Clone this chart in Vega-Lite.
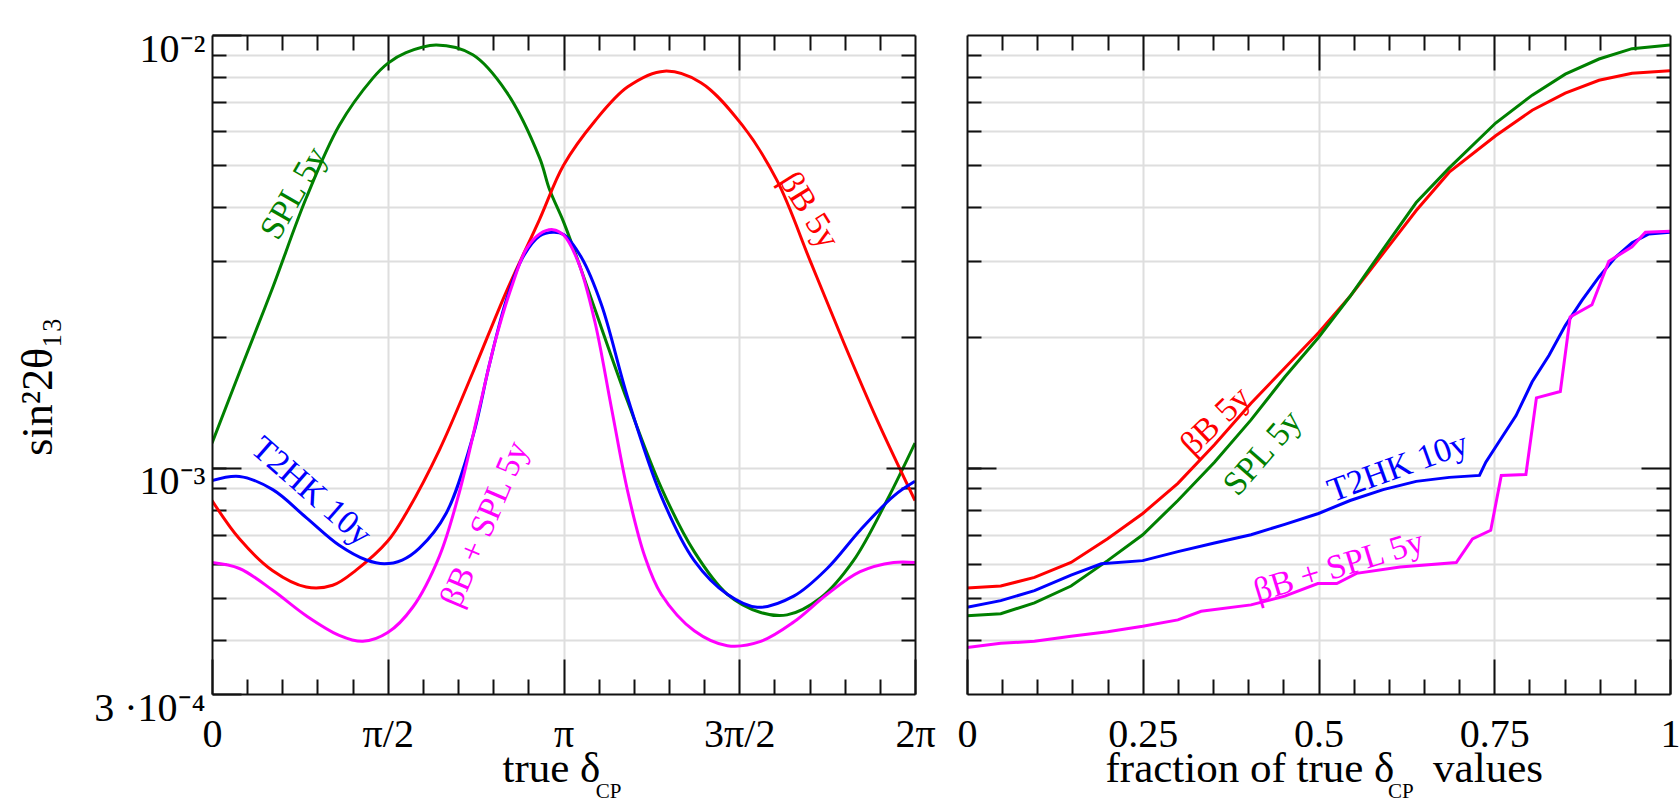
{
  "$schema": "https://vega.github.io/schema/vega-lite/v6.json",
  "padding": {"left": 16, "top": 29, "right": 0, "bottom": 0},
  "bounds": "flush",
  "spacing": 52,
  "config": {
    "view": {"stroke": null},
    "axis": {
      "labelFont": "Liberation Serif", "titleFont": "Liberation Serif",
      "labelFontSize": 40, "titleFontSize": 43, "titleFontWeight": "normal",
      "labelColor": "#000", "titleColor": "#000",
      "tickColor": "#111", "domainColor": "#111", "domainWidth": 2, "tickWidth": 2,
      "gridColor": "#dedede", "gridWidth": 2,
      "labelFlush": false, "labelOverlap": false
    }
  },
  "datasets": {
    "left": [
      {"series": "SPL 5y", "delta": 0.000, "s2t": 0.00114},
      {"series": "SPL 5y", "delta": 0.245, "s2t": 0.00166},
      {"series": "SPL 5y", "delta": 0.543, "s2t": 0.00261},
      {"series": "SPL 5y", "delta": 0.842, "s2t": 0.0042},
      {"series": "SPL 5y", "delta": 1.137, "s2t": 0.00618},
      {"series": "SPL 5y", "delta": 1.436, "s2t": 0.00794},
      {"series": "SPL 5y", "delta": 1.571, "s2t": 0.0086},
      {"series": "SPL 5y", "delta": 1.734, "s2t": 0.0091},
      {"series": "SPL 5y", "delta": 2.004, "s2t": 0.00948},
      {"series": "SPL 5y", "delta": 2.331, "s2t": 0.0090},
      {"series": "SPL 5y", "delta": 2.630, "s2t": 0.0074},
      {"series": "SPL 5y", "delta": 2.928, "s2t": 0.0052},
      {"series": "SPL 5y", "delta": 3.016, "s2t": 0.0044},
      {"series": "SPL 5y", "delta": 3.142, "s2t": 0.0037},
      {"series": "SPL 5y", "delta": 3.283, "s2t": 0.00295},
      {"series": "SPL 5y", "delta": 3.421, "s2t": 0.00233},
      {"series": "SPL 5y", "delta": 3.716, "s2t": 0.00142},
      {"series": "SPL 5y", "delta": 4.015, "s2t": 0.0009},
      {"series": "SPL 5y", "delta": 4.310, "s2t": 0.00064},
      {"series": "SPL 5y", "delta": 4.606, "s2t": 0.00051},
      {"series": "SPL 5y", "delta": 4.904, "s2t": 0.000463},
      {"series": "SPL 5y", "delta": 5.140, "s2t": 0.000457},
      {"series": "SPL 5y", "delta": 5.438, "s2t": 0.0005},
      {"series": "SPL 5y", "delta": 5.733, "s2t": 0.00061},
      {"series": "SPL 5y", "delta": 6.032, "s2t": 0.00084},
      {"series": "SPL 5y", "delta": 6.283, "s2t": 0.00114},

      {"series": "βB 5y", "delta": 0.000, "s2t": 0.00084},
      {"series": "βB 5y", "delta": 0.245, "s2t": 0.000685},
      {"series": "βB 5y", "delta": 0.543, "s2t": 0.000578},
      {"series": "βB 5y", "delta": 0.842, "s2t": 0.00053},
      {"series": "βB 5y", "delta": 1.078, "s2t": 0.000535},
      {"series": "βB 5y", "delta": 1.288, "s2t": 0.00058},
      {"series": "βB 5y", "delta": 1.571, "s2t": 0.000677},
      {"series": "βB 5y", "delta": 1.734, "s2t": 0.000784},
      {"series": "βB 5y", "delta": 2.033, "s2t": 0.0011},
      {"series": "βB 5y", "delta": 2.331, "s2t": 0.00166},
      {"series": "βB 5y", "delta": 2.630, "s2t": 0.00255},
      {"series": "βB 5y", "delta": 2.928, "s2t": 0.00375},
      {"series": "βB 5y", "delta": 3.142, "s2t": 0.0050},
      {"series": "βB 5y", "delta": 3.421, "s2t": 0.00632},
      {"series": "βB 5y", "delta": 3.716, "s2t": 0.00759},
      {"series": "βB 5y", "delta": 4.043, "s2t": 0.00825},
      {"series": "βB 5y", "delta": 4.370, "s2t": 0.00776},
      {"series": "βB 5y", "delta": 4.741, "s2t": 0.00618},
      {"series": "βB 5y", "delta": 5.052, "s2t": 0.0046},
      {"series": "βB 5y", "delta": 5.350, "s2t": 0.00299},
      {"series": "βB 5y", "delta": 5.645, "s2t": 0.00195},
      {"series": "βB 5y", "delta": 5.944, "s2t": 0.00129},
      {"series": "βB 5y", "delta": 6.283, "s2t": 0.00084},

      {"series": "T2HK 10y", "delta": 0.000, "s2t": 0.000934},
      {"series": "T2HK 10y", "delta": 0.245, "s2t": 0.000955},
      {"series": "T2HK 10y", "delta": 0.543, "s2t": 0.00089},
      {"series": "T2HK 10y", "delta": 0.842, "s2t": 0.000767},
      {"series": "T2HK 10y", "delta": 1.137, "s2t": 0.000662},
      {"series": "T2HK 10y", "delta": 1.380, "s2t": 0.000612},
      {"series": "T2HK 10y", "delta": 1.540, "s2t": 0.0006},
      {"series": "T2HK 10y", "delta": 1.700, "s2t": 0.000612},
      {"series": "T2HK 10y", "delta": 1.854, "s2t": 0.000652},
      {"series": "T2HK 10y", "delta": 2.092, "s2t": 0.000784},
      {"series": "T2HK 10y", "delta": 2.331, "s2t": 0.00118},
      {"series": "T2HK 10y", "delta": 2.479, "s2t": 0.00173},
      {"series": "T2HK 10y", "delta": 2.630, "s2t": 0.00244},
      {"series": "T2HK 10y", "delta": 2.777, "s2t": 0.00306},
      {"series": "T2HK 10y", "delta": 2.928, "s2t": 0.00343},
      {"series": "T2HK 10y", "delta": 3.047, "s2t": 0.0035},
      {"series": "T2HK 10y", "delta": 3.142, "s2t": 0.00346},
      {"series": "T2HK 10y", "delta": 3.302, "s2t": 0.00306},
      {"series": "T2HK 10y", "delta": 3.481, "s2t": 0.00238},
      {"series": "T2HK 10y", "delta": 3.716, "s2t": 0.00145},
      {"series": "T2HK 10y", "delta": 4.015, "s2t": 0.00086},
      {"series": "T2HK 10y", "delta": 4.310, "s2t": 0.00061},
      {"series": "T2HK 10y", "delta": 4.606, "s2t": 0.00051},
      {"series": "T2HK 10y", "delta": 4.873, "s2t": 0.000476},
      {"series": "T2HK 10y", "delta": 5.199, "s2t": 0.000505},
      {"series": "T2HK 10y", "delta": 5.498, "s2t": 0.000585},
      {"series": "T2HK 10y", "delta": 5.793, "s2t": 0.000717},
      {"series": "T2HK 10y", "delta": 6.092, "s2t": 0.00086},
      {"series": "T2HK 10y", "delta": 6.283, "s2t": 0.00093},

      {"series": "βB + SPL 5y", "delta": 0.000, "s2t": 0.000604},
      {"series": "βB + SPL 5y", "delta": 0.245, "s2t": 0.000585},
      {"series": "βB + SPL 5y", "delta": 0.543, "s2t": 0.000521},
      {"series": "βB + SPL 5y", "delta": 0.842, "s2t": 0.000455},
      {"series": "βB + SPL 5y", "delta": 1.137, "s2t": 0.00041},
      {"series": "βB + SPL 5y", "delta": 1.348, "s2t": 0.000397},
      {"series": "βB + SPL 5y", "delta": 1.571, "s2t": 0.000416},
      {"series": "βB + SPL 5y", "delta": 1.794, "s2t": 0.000476},
      {"series": "βB + SPL 5y", "delta": 2.033, "s2t": 0.000625},
      {"series": "βB + SPL 5y", "delta": 2.212, "s2t": 0.00088},
      {"series": "βB + SPL 5y", "delta": 2.391, "s2t": 0.00138},
      {"series": "βB + SPL 5y", "delta": 2.538, "s2t": 0.00199},
      {"series": "βB + SPL 5y", "delta": 2.689, "s2t": 0.00267},
      {"series": "βB + SPL 5y", "delta": 2.809, "s2t": 0.0032},
      {"series": "βB + SPL 5y", "delta": 2.928, "s2t": 0.00347},
      {"series": "βB + SPL 5y", "delta": 3.047, "s2t": 0.00355},
      {"series": "βB + SPL 5y", "delta": 3.142, "s2t": 0.00345},
      {"series": "βB + SPL 5y", "delta": 3.273, "s2t": 0.00299},
      {"series": "βB + SPL 5y", "delta": 3.421, "s2t": 0.00218},
      {"series": "βB + SPL 5y", "delta": 3.569, "s2t": 0.00138},
      {"series": "βB + SPL 5y", "delta": 3.716, "s2t": 0.00088},
      {"series": "βB + SPL 5y", "delta": 3.867, "s2t": 0.000625},
      {"series": "βB + SPL 5y", "delta": 4.015, "s2t": 0.00051},
      {"series": "βB + SPL 5y", "delta": 4.310, "s2t": 0.00042},
      {"series": "βB + SPL 5y", "delta": 4.606, "s2t": 0.000388},
      {"series": "βB + SPL 5y", "delta": 4.904, "s2t": 0.000397},
      {"series": "βB + SPL 5y", "delta": 5.199, "s2t": 0.00044},
      {"series": "βB + SPL 5y", "delta": 5.498, "s2t": 0.00051},
      {"series": "βB + SPL 5y", "delta": 5.793, "s2t": 0.000575},
      {"series": "βB + SPL 5y", "delta": 6.092, "s2t": 0.000604},
      {"series": "βB + SPL 5y", "delta": 6.283, "s2t": 0.000604}
    ],
    "right": [
      {"series": "βB 5y", "fraction": 0, "s2t": 0.000527},
      {"series": "βB 5y", "fraction": 0.048, "s2t": 0.000533},
      {"series": "βB 5y", "fraction": 0.096, "s2t": 0.000558},
      {"series": "βB 5y", "fraction": 0.148, "s2t": 0.000604},
      {"series": "βB 5y", "fraction": 0.2, "s2t": 0.000685},
      {"series": "βB 5y", "fraction": 0.25, "s2t": 0.000784},
      {"series": "βB 5y", "fraction": 0.3, "s2t": 0.00092},
      {"series": "βB 5y", "fraction": 0.352, "s2t": 0.00113},
      {"series": "βB 5y", "fraction": 0.404, "s2t": 0.00141},
      {"series": "βB 5y", "fraction": 0.452, "s2t": 0.0017},
      {"series": "βB 5y", "fraction": 0.5, "s2t": 0.00205},
      {"series": "βB 5y", "fraction": 0.545, "s2t": 0.00249},
      {"series": "βB 5y", "fraction": 0.592, "s2t": 0.00313},
      {"series": "βB 5y", "fraction": 0.639, "s2t": 0.00393},
      {"series": "βB 5y", "fraction": 0.686, "s2t": 0.00482},
      {"series": "βB 5y", "fraction": 0.752, "s2t": 0.00585},
      {"series": "βB 5y", "fraction": 0.804, "s2t": 0.0067},
      {"series": "βB 5y", "fraction": 0.851, "s2t": 0.00734},
      {"series": "βB 5y", "fraction": 0.899, "s2t": 0.00786},
      {"series": "βB 5y", "fraction": 0.946, "s2t": 0.00816},
      {"series": "βB 5y", "fraction": 1, "s2t": 0.00827},

      {"series": "SPL 5y", "fraction": 0, "s2t": 0.000455},
      {"series": "SPL 5y", "fraction": 0.048, "s2t": 0.00046},
      {"series": "SPL 5y", "fraction": 0.096, "s2t": 0.000487},
      {"series": "SPL 5y", "fraction": 0.148, "s2t": 0.000533},
      {"series": "SPL 5y", "fraction": 0.2, "s2t": 0.00061},
      {"series": "SPL 5y", "fraction": 0.25, "s2t": 0.0007},
      {"series": "SPL 5y", "fraction": 0.3, "s2t": 0.00084},
      {"series": "SPL 5y", "fraction": 0.352, "s2t": 0.00103},
      {"series": "SPL 5y", "fraction": 0.404, "s2t": 0.00129},
      {"series": "SPL 5y", "fraction": 0.452, "s2t": 0.00162},
      {"series": "SPL 5y", "fraction": 0.5, "s2t": 0.002},
      {"series": "SPL 5y", "fraction": 0.545, "s2t": 0.00249},
      {"series": "SPL 5y", "fraction": 0.592, "s2t": 0.0032},
      {"series": "SPL 5y", "fraction": 0.639, "s2t": 0.0041},
      {"series": "SPL 5y", "fraction": 0.686, "s2t": 0.00493},
      {"series": "SPL 5y", "fraction": 0.752, "s2t": 0.00626},
      {"series": "SPL 5y", "fraction": 0.804, "s2t": 0.00726},
      {"series": "SPL 5y", "fraction": 0.851, "s2t": 0.00812},
      {"series": "SPL 5y", "fraction": 0.899, "s2t": 0.0088},
      {"series": "SPL 5y", "fraction": 0.946, "s2t": 0.0093},
      {"series": "SPL 5y", "fraction": 1, "s2t": 0.00948},

      {"series": "T2HK 10y", "fraction": 0, "s2t": 0.000476},
      {"series": "T2HK 10y", "fraction": 0.048, "s2t": 0.000493},
      {"series": "T2HK 10y", "fraction": 0.096, "s2t": 0.00052},
      {"series": "T2HK 10y", "fraction": 0.148, "s2t": 0.000565},
      {"series": "T2HK 10y", "fraction": 0.191, "s2t": 0.0006},
      {"series": "T2HK 10y", "fraction": 0.25, "s2t": 0.00061},
      {"series": "T2HK 10y", "fraction": 0.3, "s2t": 0.00064},
      {"series": "T2HK 10y", "fraction": 0.352, "s2t": 0.00067},
      {"series": "T2HK 10y", "fraction": 0.404, "s2t": 0.0007},
      {"series": "T2HK 10y", "fraction": 0.452, "s2t": 0.00074},
      {"series": "T2HK 10y", "fraction": 0.5, "s2t": 0.000784},
      {"series": "T2HK 10y", "fraction": 0.545, "s2t": 0.00084},
      {"series": "T2HK 10y", "fraction": 0.592, "s2t": 0.00089},
      {"series": "T2HK 10y", "fraction": 0.639, "s2t": 0.00093},
      {"series": "T2HK 10y", "fraction": 0.686, "s2t": 0.00095},
      {"series": "T2HK 10y", "fraction": 0.729, "s2t": 0.00096},
      {"series": "T2HK 10y", "fraction": 0.738, "s2t": 0.00103},
      {"series": "T2HK 10y", "fraction": 0.757, "s2t": 0.00115},
      {"series": "T2HK 10y", "fraction": 0.781, "s2t": 0.00132},
      {"series": "T2HK 10y", "fraction": 0.804, "s2t": 0.00158},
      {"series": "T2HK 10y", "fraction": 0.828, "s2t": 0.00182},
      {"series": "T2HK 10y", "fraction": 0.851, "s2t": 0.00213},
      {"series": "T2HK 10y", "fraction": 0.875, "s2t": 0.00244},
      {"series": "T2HK 10y", "fraction": 0.899, "s2t": 0.00276},
      {"series": "T2HK 10y", "fraction": 0.922, "s2t": 0.00306},
      {"series": "T2HK 10y", "fraction": 0.946, "s2t": 0.00331},
      {"series": "T2HK 10y", "fraction": 0.97, "s2t": 0.00347},
      {"series": "T2HK 10y", "fraction": 1, "s2t": 0.0035},

      {"series": "βB + SPL 5y", "fraction": 0, "s2t": 0.000384},
      {"series": "βB + SPL 5y", "fraction": 0.048, "s2t": 0.000393},
      {"series": "βB + SPL 5y", "fraction": 0.096, "s2t": 0.000397},
      {"series": "βB + SPL 5y", "fraction": 0.148, "s2t": 0.000408},
      {"series": "βB + SPL 5y", "fraction": 0.2, "s2t": 0.000418},
      {"series": "βB + SPL 5y", "fraction": 0.25, "s2t": 0.00043},
      {"series": "βB + SPL 5y", "fraction": 0.3, "s2t": 0.000445},
      {"series": "βB + SPL 5y", "fraction": 0.333, "s2t": 0.000466},
      {"series": "βB + SPL 5y", "fraction": 0.404, "s2t": 0.000482},
      {"series": "βB + SPL 5y", "fraction": 0.452, "s2t": 0.000505},
      {"series": "βB + SPL 5y", "fraction": 0.499, "s2t": 0.00054},
      {"series": "βB + SPL 5y", "fraction": 0.526, "s2t": 0.00054},
      {"series": "βB + SPL 5y", "fraction": 0.554, "s2t": 0.00057},
      {"series": "βB + SPL 5y", "fraction": 0.616, "s2t": 0.00059},
      {"series": "βB + SPL 5y", "fraction": 0.696, "s2t": 0.000604},
      {"series": "βB + SPL 5y", "fraction": 0.719, "s2t": 0.000685},
      {"series": "βB + SPL 5y", "fraction": 0.745, "s2t": 0.000717},
      {"series": "βB + SPL 5y", "fraction": 0.76, "s2t": 0.00096},
      {"series": "βB + SPL 5y", "fraction": 0.795, "s2t": 0.000965},
      {"series": "βB + SPL 5y", "fraction": 0.81, "s2t": 0.00145},
      {"series": "βB + SPL 5y", "fraction": 0.844, "s2t": 0.0015},
      {"series": "βB + SPL 5y", "fraction": 0.858, "s2t": 0.00223},
      {"series": "βB + SPL 5y", "fraction": 0.889, "s2t": 0.00238},
      {"series": "βB + SPL 5y", "fraction": 0.913, "s2t": 0.003},
      {"series": "βB + SPL 5y", "fraction": 0.946, "s2t": 0.00324},
      {"series": "βB + SPL 5y", "fraction": 0.965, "s2t": 0.0035},
      {"series": "βB + SPL 5y", "fraction": 1, "s2t": 0.00352}
    ]
  },
  "hconcat": [
    {
      "width": 703, "height": 659,
      "resolve": {"axis": {"x": "independent", "y": "independent"}},
      "layer": [
        {
          "data": {"name": "left"},
          "mark": {"type": "line", "strokeWidth": 3, "interpolate": "catmull-rom", "clip": true},
          "encoding": {
            "x": {"field": "delta", "type": "quantitative",
              "scale": {"domain": [0, 6.2832], "nice": false, "zero": false},
              "axis": {"orient": "bottom", "values": [0, 1.5708, 3.1416, 4.7124, 6.2832],
                "labelExpr": "datum.value < 0.1 ? '0' : datum.value < 2 ? 'π/2' : datum.value < 3.5 ? 'π' : datum.value < 5 ? '3π/2' : '2π'",
                "tickSize": -35, "labelPadding": 55, "grid": false, "domain": true, "zindex": 1,
                "title": "true δ", "titleAlign": "left", "titleX": 290, "titleY": 87, "titleBaseline": "alphabetic"}},
            "y": {"field": "s2t", "type": "quantitative",
              "scale": {"type": "log", "domain": [0.0003, 0.01], "nice": false},
              "axis": {"orient": "left", "values": [0.0003, 0.001, 0.01],
                "labelExpr": "datum.value > 0.005 ? '10⁻²' : datum.value > 0.0005 ? '10⁻³' : '3 ·10⁻⁴'",
                "tickSize": -29, "labelPadding": 36, "labelBaseline": "middle", "labelOffset": 14,
                "grid": false, "domain": true, "zindex": 1,
                "title": "sin²2θ₁₃", "titleX": -174, "titleY": 351, "titleAngle": 270,
                "titleAlign": "center", "titleBaseline": "middle", "titleFontSize": 44}},
            "color": {"field": "series", "type": "nominal", "legend": null,
              "scale": {"domain": ["βB + SPL 5y", "βB 5y", "SPL 5y", "T2HK 10y"],
                        "range": ["#ff00ff", "#ff0000", "#008000", "#0000ff"]}}
          }
        },
        {
          "data": {"values": [{"delta": 3.1416, "s2t": 0.001}]},
          "mark": {"type": "point", "opacity": 0},
          "encoding": {
            "x": {"field": "delta", "type": "quantitative",
              "scale": {"domain": [0, 6.2832], "nice": false, "zero": false},
              "axis": {"orient": "bottom", "values": [0.3142, 0.6283, 0.9425, 1.2566, 1.885, 2.1991, 2.5133, 2.8274, 3.4558, 3.7699, 4.0841, 4.3982, 5.0265, 5.3407, 5.6549, 5.969],
                "tickSize": -15, "labels": false, "domain": false, "grid": false, "title": null}},
            "y": {"field": "s2t", "type": "quantitative",
              "scale": {"type": "log", "domain": [0.0003, 0.01], "nice": false},
              "axis": {"orient": "left", "values": [0.0004, 0.0005, 0.0006, 0.0007, 0.0008, 0.0009, 0.001, 0.002, 0.003, 0.004, 0.005, 0.006, 0.007, 0.008, 0.009],
                "tickSize": -14, "labels": false, "domain": false, "grid": true, "zindex": 0, "title": null}}
          }
        },
        {
          "data": {"values": [{"delta": 3.1416, "s2t": 0.001}]},
          "mark": {"type": "point", "opacity": 0},
          "encoding": {
            "x": {"field": "delta", "type": "quantitative",
              "scale": {"domain": [0, 6.2832], "nice": false, "zero": false},
              "axis": {"orient": "top", "values": [1.5708, 3.1416, 4.7124],
                "tickSize": -35, "labels": false, "domain": true, "grid": true, "zindex": 0, "title": null}},
            "y": {"field": "s2t", "type": "quantitative",
              "scale": {"type": "log", "domain": [0.0003, 0.01], "nice": false},
              "axis": {"orient": "right", "values": [0.001],
                "tickSize": -29, "labels": false, "domain": true, "grid": false, "zindex": 1, "title": null}}
          }
        },
        {
          "data": {"values": [{"delta": 3.1416, "s2t": 0.001}]},
          "mark": {"type": "point", "opacity": 0},
          "encoding": {
            "x": {"field": "delta", "type": "quantitative",
              "scale": {"domain": [0, 6.2832], "nice": false, "zero": false},
              "axis": {"orient": "top", "values": [0.3142, 0.6283, 0.9425, 1.2566, 1.885, 2.1991, 2.5133, 2.8274, 3.4558, 3.7699, 4.0841, 4.3982, 5.0265, 5.3407, 5.6549, 5.969],
                "tickSize": -15, "labels": false, "domain": false, "grid": false, "title": null}},
            "y": {"field": "s2t", "type": "quantitative",
              "scale": {"type": "log", "domain": [0.0003, 0.01], "nice": false},
              "axis": {"orient": "right", "values": [0.0004, 0.0005, 0.0006, 0.0007, 0.0008, 0.0009, 0.002, 0.003, 0.004, 0.005, 0.006, 0.007, 0.008, 0.009],
                "tickSize": -14, "labels": false, "domain": false, "grid": false, "title": null}}
          }
        },
        {
          "data": {"values": [{"delta": 0.735, "s2t": 0.0043, "label": "SPL 5y"}]},
          "mark": {"type": "text", "angle": 300, "font": "Liberation Serif", "fontSize": 34, "color": "#008000", "align": "center", "baseline": "middle"},
          "encoding": {
            "x": {"field": "delta", "type": "quantitative", "axis": null, "scale": {"domain": [0, 6.2832], "nice": false, "zero": false}},
            "y": {"field": "s2t", "type": "quantitative", "axis": null, "scale": {"type": "log", "domain": [0.0003, 0.01], "nice": false}},
            "text": {"field": "label"}
          }
        },
        {
          "data": {"values": [{"delta": 0.886, "s2t": 0.00088, "label": "T2HK 10y"}]},
          "mark": {"type": "text", "angle": 41, "font": "Liberation Serif", "fontSize": 34, "color": "#0000ff", "align": "center", "baseline": "middle"},
          "encoding": {
            "x": {"field": "delta", "type": "quantitative", "axis": null, "scale": {"domain": [0, 6.2832], "nice": false, "zero": false}},
            "y": {"field": "s2t", "type": "quantitative", "axis": null, "scale": {"type": "log", "domain": [0.0003, 0.01], "nice": false}},
            "text": {"field": "label"}
          }
        },
        {
          "data": {"values": [{"delta": 2.44, "s2t": 0.00074, "label": "βB + SPL 5y"}]},
          "mark": {"type": "text", "angle": 293, "font": "Liberation Serif", "fontSize": 34, "color": "#ff00ff", "align": "center", "baseline": "middle"},
          "encoding": {
            "x": {"field": "delta", "type": "quantitative", "axis": null, "scale": {"domain": [0, 6.2832], "nice": false, "zero": false}},
            "y": {"field": "s2t", "type": "quantitative", "axis": null, "scale": {"type": "log", "domain": [0.0003, 0.01], "nice": false}},
            "text": {"field": "label"}
          }
        },
        {
          "data": {"values": [{"delta": 5.334, "s2t": 0.00393, "label": "βB 5y"}]},
          "mark": {"type": "text", "angle": 58, "font": "Liberation Serif", "fontSize": 34, "color": "#ff0000", "align": "center", "baseline": "middle"},
          "encoding": {
            "x": {"field": "delta", "type": "quantitative", "axis": null, "scale": {"domain": [0, 6.2832], "nice": false, "zero": false}},
            "y": {"field": "s2t", "type": "quantitative", "axis": null, "scale": {"type": "log", "domain": [0.0003, 0.01], "nice": false}},
            "text": {"field": "label"}
          }
        },
        {
          "data": {"values": [{"delta": 3.43, "s2t": 0.0001724, "label": "CP"}]},
          "mark": {"type": "text", "font": "Liberation Serif", "fontSize": 21, "color": "#000", "align": "left", "baseline": "alphabetic"},
          "encoding": {
            "x": {"field": "delta", "type": "quantitative", "axis": null, "scale": {"domain": [0, 6.2832], "nice": false, "zero": false}},
            "y": {"field": "s2t", "type": "quantitative", "axis": null, "scale": {"type": "log", "domain": [0.0003, 0.01], "nice": false}},
            "text": {"field": "label"}
          }
        }
      ]
    },
    {
      "width": 703, "height": 659,
      "resolve": {"axis": {"x": "independent", "y": "independent"}},
      "layer": [
        {
          "data": {"name": "right"},
          "mark": {"type": "line", "strokeWidth": 3, "interpolate": "linear", "clip": true},
          "encoding": {
            "x": {"field": "fraction", "type": "quantitative",
              "scale": {"domain": [0, 1], "nice": false, "zero": false},
              "axis": {"orient": "bottom", "values": [0, 0.25, 0.5, 0.75, 1],
                "labelExpr": "datum.value < 0.1 ? '0' : datum.value < 0.3 ? '0.25' : datum.value < 0.6 ? '0.5' : datum.value < 0.9 ? '0.75' : '1'",
                "tickSize": -35, "labelPadding": 55, "grid": false, "domain": true, "zindex": 1,
                "title": "fraction of true δ\u2002\u2009\u2009values", "titleAlign": "left", "titleX": 138, "titleY": 87, "titleBaseline": "alphabetic"}},
            "y": {"field": "s2t", "type": "quantitative",
              "scale": {"type": "log", "domain": [0.0003, 0.01], "nice": false},
              "axis": {"orient": "left", "values": [0.001],
                "tickSize": -29, "labels": false, "grid": false, "domain": true, "zindex": 1, "title": null}},
            "color": {"field": "series", "type": "nominal", "legend": null,
              "scale": {"domain": ["βB + SPL 5y", "βB 5y", "SPL 5y", "T2HK 10y"],
                        "range": ["#ff00ff", "#ff0000", "#008000", "#0000ff"]}}
          }
        },
        {
          "data": {"values": [{"fraction": 0.5, "s2t": 0.001}]},
          "mark": {"type": "point", "opacity": 0},
          "encoding": {
            "x": {"field": "fraction", "type": "quantitative",
              "scale": {"domain": [0, 1], "nice": false, "zero": false},
              "axis": {"orient": "bottom", "values": [0.05, 0.1, 0.15, 0.2, 0.3, 0.35, 0.4, 0.45, 0.55, 0.6, 0.65, 0.7, 0.8, 0.85, 0.9, 0.95],
                "tickSize": -15, "labels": false, "domain": false, "grid": false, "title": null}},
            "y": {"field": "s2t", "type": "quantitative",
              "scale": {"type": "log", "domain": [0.0003, 0.01], "nice": false},
              "axis": {"orient": "left", "values": [0.0004, 0.0005, 0.0006, 0.0007, 0.0008, 0.0009, 0.001, 0.002, 0.003, 0.004, 0.005, 0.006, 0.007, 0.008, 0.009],
                "tickSize": -14, "labels": false, "domain": false, "grid": true, "zindex": 0, "title": null}}
          }
        },
        {
          "data": {"values": [{"fraction": 0.5, "s2t": 0.001}]},
          "mark": {"type": "point", "opacity": 0},
          "encoding": {
            "x": {"field": "fraction", "type": "quantitative",
              "scale": {"domain": [0, 1], "nice": false, "zero": false},
              "axis": {"orient": "top", "values": [0.25, 0.5, 0.75],
                "tickSize": -35, "labels": false, "domain": true, "grid": true, "zindex": 0, "title": null}},
            "y": {"field": "s2t", "type": "quantitative",
              "scale": {"type": "log", "domain": [0.0003, 0.01], "nice": false},
              "axis": {"orient": "right", "values": [0.001],
                "tickSize": -29, "labels": false, "domain": true, "grid": false, "zindex": 1, "title": null}}
          }
        },
        {
          "data": {"values": [{"fraction": 0.5, "s2t": 0.001}]},
          "mark": {"type": "point", "opacity": 0},
          "encoding": {
            "x": {"field": "fraction", "type": "quantitative",
              "scale": {"domain": [0, 1], "nice": false, "zero": false},
              "axis": {"orient": "top", "values": [0.05, 0.1, 0.15, 0.2, 0.3, 0.35, 0.4, 0.45, 0.55, 0.6, 0.65, 0.7, 0.8, 0.85, 0.9, 0.95],
                "tickSize": -15, "labels": false, "domain": false, "grid": false, "title": null}},
            "y": {"field": "s2t", "type": "quantitative",
              "scale": {"type": "log", "domain": [0.0003, 0.01], "nice": false},
              "axis": {"orient": "right", "values": [0.0004, 0.0005, 0.0006, 0.0007, 0.0008, 0.0009, 0.002, 0.003, 0.004, 0.005, 0.006, 0.007, 0.008, 0.009],
                "tickSize": -14, "labels": false, "domain": false, "grid": false, "title": null}}
          }
        },
        {
          "data": {"values": [{"fraction": 0.354, "s2t": 0.00128, "label": "βB 5y"}]},
          "mark": {"type": "text", "angle": 316, "font": "Liberation Serif", "fontSize": 34, "color": "#ff0000", "align": "center", "baseline": "middle"},
          "encoding": {
            "x": {"field": "fraction", "type": "quantitative", "axis": null, "scale": {"domain": [0, 1], "nice": false, "zero": false}},
            "y": {"field": "s2t", "type": "quantitative", "axis": null, "scale": {"type": "log", "domain": [0.0003, 0.01], "nice": false}},
            "text": {"field": "label"}
          }
        },
        {
          "data": {"values": [{"fraction": 0.421, "s2t": 0.00108, "label": "SPL 5y"}]},
          "mark": {"type": "text", "angle": 311, "font": "Liberation Serif", "fontSize": 34, "color": "#008000", "align": "center", "baseline": "middle"},
          "encoding": {
            "x": {"field": "fraction", "type": "quantitative", "axis": null, "scale": {"domain": [0, 1], "nice": false, "zero": false}},
            "y": {"field": "s2t", "type": "quantitative", "axis": null, "scale": {"type": "log", "domain": [0.0003, 0.01], "nice": false}},
            "text": {"field": "label"}
          }
        },
        {
          "data": {"values": [{"fraction": 0.613, "s2t": 0.001, "label": "T2HK 10y"}]},
          "mark": {"type": "text", "angle": 340, "font": "Liberation Serif", "fontSize": 34, "color": "#0000ff", "align": "center", "baseline": "middle"},
          "encoding": {
            "x": {"field": "fraction", "type": "quantitative", "axis": null, "scale": {"domain": [0, 1], "nice": false, "zero": false}},
            "y": {"field": "s2t", "type": "quantitative", "axis": null, "scale": {"type": "log", "domain": [0.0003, 0.01], "nice": false}},
            "text": {"field": "label"}
          }
        },
        {
          "data": {"values": [{"fraction": 0.529, "s2t": 0.00059, "label": "βB + SPL 5y"}]},
          "mark": {"type": "text", "angle": 343, "font": "Liberation Serif", "fontSize": 34, "color": "#ff00ff", "align": "center", "baseline": "middle"},
          "encoding": {
            "x": {"field": "fraction", "type": "quantitative", "axis": null, "scale": {"domain": [0, 1], "nice": false, "zero": false}},
            "y": {"field": "s2t", "type": "quantitative", "axis": null, "scale": {"type": "log", "domain": [0.0003, 0.01], "nice": false}},
            "text": {"field": "label"}
          }
        },
        {
          "data": {"values": [{"fraction": 0.599, "s2t": 0.0001724, "label": "CP"}]},
          "mark": {"type": "text", "font": "Liberation Serif", "fontSize": 21, "color": "#000", "align": "left", "baseline": "alphabetic"},
          "encoding": {
            "x": {"field": "fraction", "type": "quantitative", "axis": null, "scale": {"domain": [0, 1], "nice": false, "zero": false}},
            "y": {"field": "s2t", "type": "quantitative", "axis": null, "scale": {"type": "log", "domain": [0.0003, 0.01], "nice": false}},
            "text": {"field": "label"}
          }
        }
      ]
    }
  ]
}
